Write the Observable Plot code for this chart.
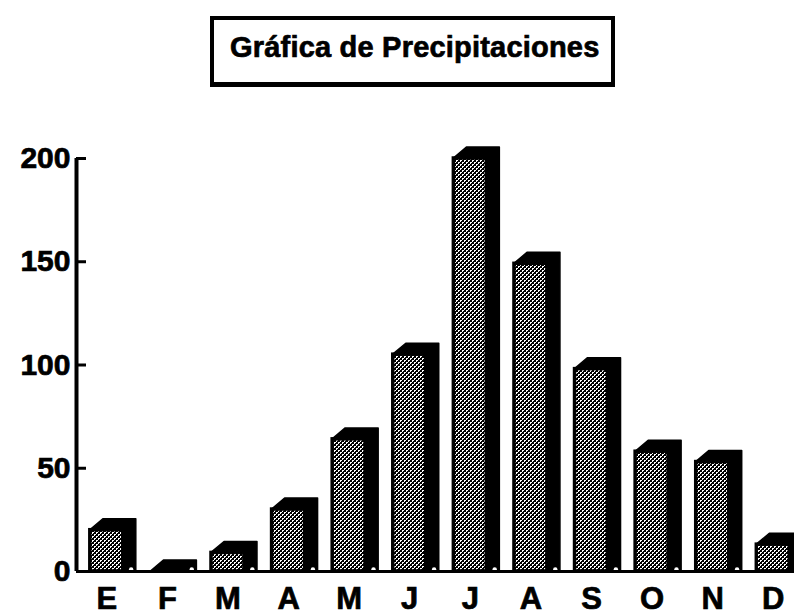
<!DOCTYPE html>
<html><head><meta charset="utf-8">
<script src="https://cdn.jsdelivr.net/npm/d3@7"></script>
<script src="https://cdn.jsdelivr.net/npm/@observablehq/plot@0.6"></script>
<style>
html,body{margin:0;padding:0;background:#fff;}
body{width:794px;height:615px;overflow:hidden;position:relative;font-family:"Liberation Sans",Arial,Helvetica,sans-serif;}
#title{position:absolute;left:210px;top:16px;width:405px;height:71px;box-sizing:border-box;border:4px solid #000;border-bottom-width:5px;
  font-weight:bold;font-size:29px;line-height:29px;letter-spacing:0.2px;padding:13px 0 0 16px;color:#000;white-space:nowrap;
  -webkit-text-stroke:0.7px #000;}
#chart{position:absolute;left:0;top:100px;}
#chart svg text{stroke:#000;stroke-width:0.7px;}
</style></head>
<body>
<div id="title">Gráfica de Precipitaciones</div>
<div id="chart"></div>
<script>
// Data
const months = ["E","F","M","A","M","J","J","A","S","O","N","D"];
const rainfall = [20, 0, 9, 30, 64, 105, 200, 149, 98, 58, 53, 13];
const yTicks = [0, 50, 100, 150, 200];

// Build table
const rows = months.map((m, i) => ({i, month: m, value: rainfall[i]}));

// 3D styling (in scale units)
const HW = 0.272;   // half width of front face (x index units)
const DX = 0.215;   // depth offset (x index units)
const DY = 5.3;     // depth offset (y units)

const silhouette = rows.flatMap(d => [
  {i: d.i, x: d.i - HW, y2: d.value},
  {i: d.i, x: d.i - HW + DX, y2: d.value + DY},
  {i: d.i, x: d.i + HW + DX, y2: d.value + DY}
]);

const W = 794, H = 515;
const plot = Plot.plot({
  width: W, height: H,
  marginLeft: 76, marginRight: 0, marginTop: 58, marginBottom: 44,
  style: {fontFamily: "'Liberation Sans', Arial, Helvetica, sans-serif", fontWeight: "bold", color: "#000", background: "#fff", overflow: "visible"},
  x: {domain: [-0.5, 11.35], axis: null},
  y: {domain: [0, 200], axis: null},
  marks: [
    Plot.areaY(silhouette, {x: "x", y1: 0, y2: "y2", z: "i", fill: "#000", stroke: "#000", strokeWidth: 1.5, strokeLinejoin: "round", curve: "linear"}),
    Plot.rectY(rows.filter(d => d.value > 0), {x1: d => d.i - HW, x2: d => d.i + HW, y1: 0, y2: "value", fill: "url(#stipple)", stroke: "#000", strokeWidth: 3.5}),
    Plot.dot(rows, {x: d => d.i + HW + 0.13, y: 0, dy: -2, r: 2.2, fill: "#fff", stroke: "none"}),
    Plot.ruleY([0], {stroke: "#000", strokeWidth: 3}),
    Plot.ruleY(yTicks, {stroke: "#000", strokeWidth: 3, insetRight: 718 - 10}),
    Plot.ruleX([-0.5], {y1: 0, y2: 200, stroke: "#000", strokeWidth: 4}),
    Plot.axisY({ticks: yTicks, label: null, tickSize: 0, tickPadding: 6, fontSize: 30, fontWeight: "bold", tickFormat: d => String(d)}),
    Plot.axisX({ticks: d3.range(months.length), label: null, tickSize: 0, tickPadding: 15, fontSize: 31, fontWeight: "bold", tickFormat: i => months[i]})
  ]
});

// stipple pattern: diagonal lattice of white dots on black
const ns = "http://www.w3.org/2000/svg";
const svgEl = plot.tagName.toLowerCase() === "svg" ? plot : plot.querySelector("svg");
const defs = document.createElementNS(ns, "defs");
const pat = document.createElementNS(ns, "pattern");
pat.setAttribute("id", "stipple");
pat.setAttribute("width", "4"); pat.setAttribute("height", "4");
pat.setAttribute("patternUnits", "userSpaceOnUse");
const bg = document.createElementNS(ns, "rect");
bg.setAttribute("width", "4"); bg.setAttribute("height", "4"); bg.setAttribute("fill", "#000");
pat.appendChild(bg);
for (const [px, py] of [[0,0],[1,0],[0,1],[2,2],[3,2],[2,3]]) {
  const r = document.createElementNS(ns, "rect");
  r.setAttribute("x", px); r.setAttribute("y", py);
  r.setAttribute("width", "1"); r.setAttribute("height", "1"); r.setAttribute("fill", "#fff");
  pat.appendChild(r);
}
defs.appendChild(pat);
svgEl.insertBefore(defs, svgEl.firstChild);

document.getElementById("chart").appendChild(plot);
</script>
</body></html>
